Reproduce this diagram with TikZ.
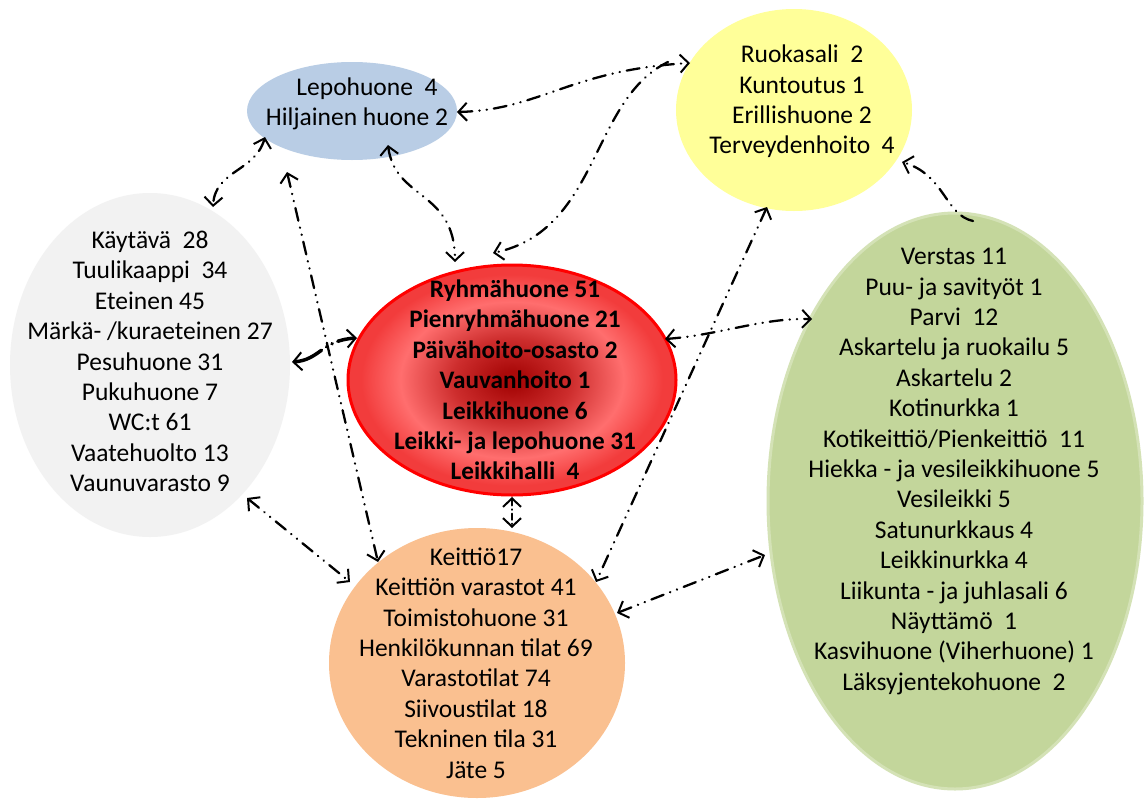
\documentclass[tikz,border=0pt]{standalone}
\usepackage{fontspec}
\setmainfont{Carlito}
\usetikzlibrary{arrows.meta,shapes.geometric}
\definecolor{greyF}{HTML}{F2F2F2}
\definecolor{blueF}{HTML}{B9CDE5}
\definecolor{yelF}{HTML}{FFFF99}
\definecolor{greenF}{HTML}{C3D69B}
\definecolor{greenB}{HTML}{D4E2B6}
\definecolor{orangeF}{HTML}{FAC090}
\definecolor{rC}{RGB}{170,10,10}
\definecolor{rM}{RGB}{205,45,45}
\definecolor{rL}{RGB}{255,110,110}
\definecolor{rE}{RGB}{242,60,60}
\pgfdeclareradialshading{redglow}{\pgfpoint{0bp}{0bp}}{color(0bp)=(rC); color(2bp)=(rC); color(9bp)=(rM); color(17bp)=(rL); color(23bp)=(rE); color(25bp)=(rE); color(50bp)=(rE)}
\tikzset{
  ell/.style={ellipse, inner sep=0pt, outer sep=0pt},
  txt/.style={align=center, font=\fontsize{25.5}{30.4}\selectfont, inner sep=0pt},
  tip/.tip={Straight Barb[length=8.5pt,width=18pt,line width=2pt]},
  conn/.style={draw=black, line width=2.3pt, line cap=round,
    dash pattern=on 13pt off 7pt on 0.3pt off 7pt on 0.3pt off 7pt, tip-tip},
  connR/.style={conn, -tip},
}
\begin{document}
\begin{tikzpicture}[x=1pt,y=-1pt]
\fill[white] (0,0) rectangle (1145,798);
\useasboundingbox (0,0) rectangle (1145,798);
% ellipses
\node[ell, fill=greyF, minimum width=280pt, minimum height=344pt] (grey) at (150,365) {};
\node[ell, fill=blueF, minimum width=210pt, minimum height=98pt] (blue) at (352,111) {};
\node[ell, fill=yelF, minimum width=236pt, minimum height=202pt] (yel) at (794,110) {};
\node[ell, fill=greenF, draw=greenB, line width=3pt, minimum width=374pt, minimum height=576pt] (green) at (955,501) {};
\node[ell, fill=orangeF, minimum width=296pt, minimum height=270pt] (orange) at (477,663) {};
\node[ell, shading=redglow, draw=red, line width=3pt, minimum width=328pt, minimum height=230pt] (red) at (512,380) {};
% connectors
\coordinate (c2s) at ([shift={(-126,-48)}]yel.center);
\draw[conn] ([shift={(105,1)}]blue.center) .. controls (540,110) and (570,70) .. ([shift={(-104,-47)}]yel.center);
\draw[connR] (c2s) .. controls (590,100) and (600,230) .. ([shift={(-19,-127)}]red.center);
\draw[conn] ([shift={(-87,26)}]blue.center) .. controls (255,172) and (215,170) .. ([shift={(63,-158)}]grey.center);
\draw[conn] ([shift={(36,34)}]blue.center) .. controls (395,200) and (455,190) .. ([shift={(-57,-118)}]red.center);
\draw[conn, line width=3.5pt, dash pattern=on 30pt off 6pt on 0.3pt off 6pt on 0.3pt off 6pt] ([shift={(142,-3)}]grey.center) .. controls (320,360) and (322,340) .. ([shift={(-155,-42)}]red.center);
\draw[conn] ([shift={(-65,61)}]blue.center) -- ([shift={(-99,-101)}]orange.center);
\draw[conn] ([shift={(97,133)}]grey.center) -- ([shift={(-127,-81)}]orange.center);
\draw[conn, dash pattern=on 6pt off 4pt on 0.3pt off 4pt] ([shift={(0,117)}]red.center) -- ([shift={(35,-135)}]orange.center);
\draw[conn] ([shift={(-27,97)}]yel.center) -- ([shift={(119,-81)}]orange.center);
\draw[conn] ([shift={(153,-41)}]red.center) .. controls (720,335) and (760,318) .. ([shift={(-143,-182)}]green.center);
\draw[conn] ([shift={(140,-50)}]orange.center) -- ([shift={(-190,54)}]green.center);
\draw[connR] ([shift={(18,-280)}]green.center) .. controls (945,215) and (945,175) .. ([shift={(108,52)}]yel.center);
% texts
\node[txt] (blueT) at (357,104) {\hspace*{20pt}Lepohuone~ 4\\Hiljainen huone 2};
\node[txt] (yelT) at (802,101.5) {Ruokasali~ 2\\Kuntoutus 1\\Erillishuone 2\\Terveydenhoito~ 4};
\node[txt] (greyT) at (150,361.5) {Käytävä~ 28\\Tuulikaappi~ 34\\Eteinen 45\\Märkä- /kuraeteinen 27\\Pesuhuone 31\\Pukuhuone 7\\WC:t 61\\Vaatehuolto 13\\Vaunuvarasto 9};
\node[txt, font=\fontsize{25.2}{30.4}\selectfont\bfseries] (redT) at (515,380) {Ryhmähuone 51\\Pienryhmähuone 21\\Päivähoito-osasto 2\\Vauvanhoito 1\\Leikkihuone 6\\Leikki- ja lepohuone 31\\Leikkihalli~ 4};
\node[txt] (orangeT) at (476,663) {Keittiö17\\Keittiön varastot 41\\Toimistohuone 31\\Henkilökunnan tilat 69\\Varastotilat 74\\Siivoustilat 18\\Tekninen tila 31\\Jäte 5};
\node[txt] (greenT) at (954,471.5) {Verstas 11\\Puu- ja savityöt 1\\Parvi~ 12\\Askartelu ja ruokailu 5\\Askartelu 2\\Kotinurkka 1\\Kotikeittiö/Pienkeittiö~ 11\\Hiekka - ja vesileikkihuone 5\\Vesileikki 5\\Satunurkkaus 4\\Leikkinurkka 4\\Liikunta - ja juhlasali 6\\Näyttämö~ 1\\Kasvihuone (Viherhuone) 1\\Läksyjentekohuone~ 2};
\end{tikzpicture}
\end{document}
